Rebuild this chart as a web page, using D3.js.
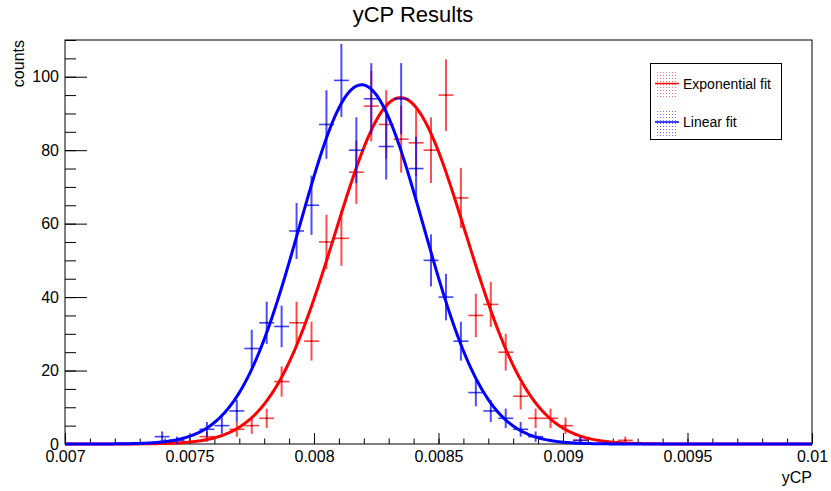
<!DOCTYPE html>
<html lang="en">
<head>
    <meta charset="UTF-8">
    <title>yCP Results</title>
    <script src="https://d3js.org/d3.v7.min.js"></script>
    <style>
        body, html {
            margin: 0;
            background-color: #ffffff;
            font-family: 'Liberation Sans', Arial, sans-serif;
        }
        svg text {
            font-family: 'Liberation Sans', Arial, sans-serif;
        }
    </style>
</head>
<body>
<svg id="chart" width="831" height="491"></svg>

<script>
    // histogram range: 50 bins between 0.007 and 0.01
    const xRange = [0.007, 0.01];
    const nBins = 50;

    // counts per bin
    const expCounts = [0, 0, 0, 0, 0, 0, 0, 0, 0, 2,
                       0, 4, 5, 7, 17, 33, 28, 55, 56, 74,
                       92, 87, 83, 82, 80, 95, 67, 35, 38, 25,
                       13, 7, 7, 5, 1, 0, 0, 1, 0, 0,
                       0, 0, 0, 0, 0, 0, 0, 0, 0, 0];
    const linCounts = [0, 0, 0, 0, 0, 0, 2, 1, 0, 4,
                       5, 9, 26, 33, 32, 58, 65, 87, 99, 80,
                       94, 81, 94, 75, 50, 40, 28, 14, 9, 7,
                       4, 2, 0, 0, 1, 0, 0, 0, 0, 0,
                       0, 0, 0, 0, 0, 0, 0, 0, 0, 0];

    // gaussian fit parameters: [constant, mean, sigma]
    const expFit = [94.3, 0.008347, 0.000263];
    const linFit = [97.8, 0.008191, 0.000249];

    const xTicks = [0.007, 0.0075, 0.008, 0.0085, 0.009, 0.0095, 0.01];
    const xTickLabels = ['0.007', '0.0075', '0.008', '0.0085', '0.009', '0.0095', '0.01'];
    const yTicks = [0, 20, 40, 60, 80, 100];
    const yMax = 110;

    const legendLabels = ['Exponential fit', 'Linear fit'];
    const colors = ['#ff0000', '#0000ff'];

    const svg = d3.select('#chart');
    const frame = { left: 65, right: 812, top: 40, bottom: 444 };

    const x = d3.scaleLinear().domain(xRange).range([frame.left, frame.right]);
    const y = d3.scaleLinear().domain([0, yMax]).range([frame.bottom, frame.top]);

    // dotted fill patterns for the legend boxes
    const defs = svg.append('defs');
    colors.forEach((c, i) => {
        const p = defs.append('pattern')
            .attr('id', 'dots' + i)
            .attr('width', 3).attr('height', 3)
            .attr('patternUnits', 'userSpaceOnUse');
        p.append('rect').attr('x', 0).attr('y', 0).attr('width', 1).attr('height', 1)
            .attr('fill', c).attr('opacity', 0.55);
    });

    // minor ticks
    const xMinor = d3.range(0, 31).map(i => xRange[0] + i * 0.0001);
    svg.append('g')
        .attr('transform', `translate(0,${frame.bottom})`)
        .call(d3.axisBottom(x).tickValues(xMinor).tickSize(-5.5).tickFormat(''))
        .call(g => g.select('.domain').remove());
    const yMinor = d3.range(0, yMax + 1, 5);
    svg.append('g')
        .attr('transform', `translate(${frame.left},0)`)
        .call(d3.axisLeft(y).tickValues(yMinor).tickSize(-11).tickFormat(''))
        .call(g => g.select('.domain').remove());

    // major ticks + labels
    svg.append('g')
        .attr('transform', `translate(0,${frame.bottom})`)
        .call(d3.axisBottom(x).tickValues(xTicks).tickSize(-11).tickPadding(6.5)
            .tickFormat((d, i) => xTickLabels[i]))
        .call(g => g.select('.domain').remove())
        .call(g => g.selectAll('text').style('font-size', '16px').attr('fill', '#000'));
    svg.append('g')
        .attr('transform', `translate(${frame.left},0)`)
        .call(d3.axisLeft(y).tickValues(yTicks).tickSize(-22).tickPadding(6).tickFormat(d3.format('d')))
        .call(g => g.select('.domain').remove())
        .call(g => g.selectAll('text').style('font-size', '16px').attr('fill', '#000'));

    // frame
    svg.append('rect')
        .attr('x', frame.left).attr('y', frame.top)
        .attr('width', frame.right - frame.left).attr('height', frame.bottom - frame.top)
        .attr('fill', 'none').attr('stroke', '#000').attr('stroke-width', 1);

    const binWidth = (xRange[1] - xRange[0]) / nBins;

    function drawHist(counts, color) {
        const g = svg.append('g');
        counts.forEach((v, i) => {
            if (v <= 0) return;
            const lo = xRange[0] + i * binWidth;
            const cx = x(lo + binWidth / 2);
            const err = Math.sqrt(v);
            g.append('line')
                .attr('x1', cx).attr('x2', cx)
                .attr('y1', y(v - err)).attr('y2', y(v + err))
                .attr('stroke', color).attr('stroke-width', 2).attr('stroke-opacity', 0.7);
            g.append('line')
                .attr('x1', x(lo)).attr('x2', x(lo + binWidth))
                .attr('y1', y(v)).attr('y2', y(v))
                .attr('stroke', color).attr('stroke-width', 1.6).attr('stroke-opacity', 0.75);
            g.append('rect')
                .attr('x', cx - 0.6).attr('y', y(v) - 0.6)
                .attr('width', 1.2).attr('height', 1.2)
                .attr('fill', '#000');
        });
    }

    function drawFit(par, color) {
        const pts = d3.range(0, 601).map(i => xRange[0] + i * (xRange[1] - xRange[0]) / 600);
        const line = d3.line()
            .x(d => x(d))
            .y(d => y(par[0] * Math.exp(-0.5 * Math.pow((d - par[1]) / par[2], 2))));
        svg.append('path')
            .datum(pts)
            .attr('d', line)
            .attr('fill', 'none')
            .attr('stroke', color)
            .attr('stroke-width', 3);
    }

    drawHist(expCounts, colors[0]);
    drawFit(expFit, colors[0]);
    drawHist(linCounts, colors[1]);
    drawFit(linFit, colors[1]);

    // titles
    svg.append('text')
        .attr('x', 413).attr('y', 22)
        .attr('text-anchor', 'middle')
        .style('font-size', '22px')
        .text('yCP Results');
    svg.append('text')
        .attr('transform', 'translate(24,40) rotate(-90)')
        .attr('text-anchor', 'end')
        .style('font-size', '16px')
        .text('counts');
    svg.append('text')
        .attr('x', 812).attr('y', 483)
        .attr('text-anchor', 'end')
        .style('font-size', '16px')
        .text('yCP');

    // legend
    const legend = svg.append('g');
    legend.append('rect')
        .attr('x', 650.5).attr('y', 63.5)
        .attr('width', 131).attr('height', 76)
        .attr('fill', '#fff').attr('stroke', '#000').attr('stroke-width', 1);
    legendLabels.forEach((label, i) => {
        const cy = 83.5 + i * 38.5;
        legend.append('rect')
            .attr('x', 657).attr('y', cy - 13)
            .attr('width', 21).attr('height', 27)
            .attr('fill', `url(#dots${i})`);
        legend.append('line')
            .attr('x1', 655).attr('x2', 679)
            .attr('y1', cy).attr('y2', cy)
            .attr('stroke', colors[i]).attr('stroke-width', 1.5);
        legend.append('text')
            .attr('x', 683).attr('y', cy + 5)
            .style('font-size', '14px')
            .text(label);
    });
</script>
</body>
</html>
